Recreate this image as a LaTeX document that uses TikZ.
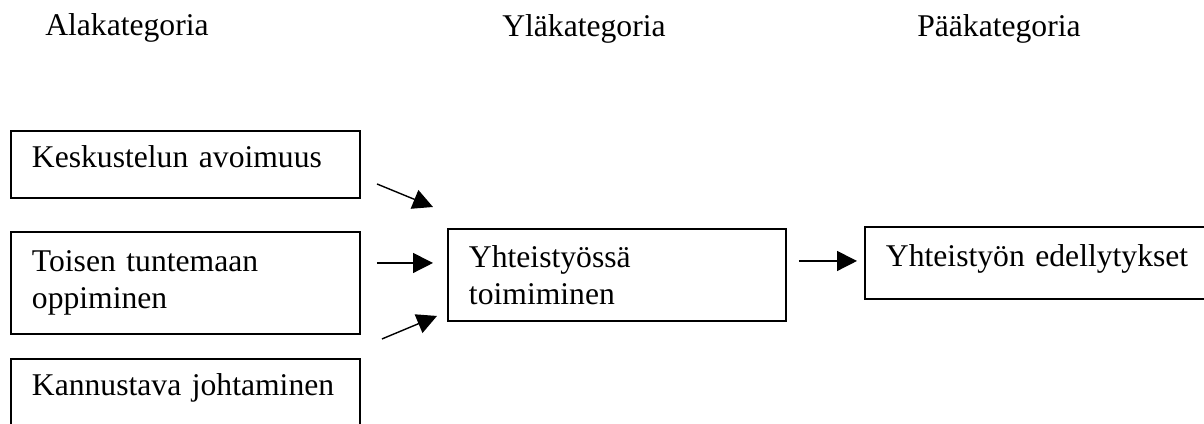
\documentclass[tikz,border=0pt]{standalone}
\usepackage{fontspec}
\setmainfont{Liberation Serif}
\usetikzlibrary{arrows.meta}

\begin{document}
\begin{tikzpicture}[
  headlabel/.style={anchor=base west, inner sep=0pt, font=\fontsize{22.5}{26.2}\selectfont},
  catbox/.style={draw, line width=1.4pt, anchor=north west, align=left, inner xsep=0.525cm,
    inner ysep=0pt, font=\fontsize{22.5}{26.2}\selectfont},
  oneline/.style={text depth=0.38cm},
  catarrow/.style={-{Triangle[length=0.5cm, width=0.5cm]}, line width=1pt}
]
  \useasboundingbox (0,0) rectangle (30.1,10.6);

  \node[headlabel] (ala) at (1.125,9.7) {Alakategoria};
  \node[headlabel] (yla) at (12.55,9.675) {Yläkategoria};
  \node[headlabel] (paa) at (22.925,9.675) {Pääkategoria};

  \node[catbox, oneline, text width=7.675cm, minimum height=1.675cm] (kesk) at (0.25,7.35) {Keskustelun avoimuus};
  \node[catbox, text width=7.675cm, minimum height=2.55cm] (toisen) at (0.25,4.825) {Toisen tuntemaan\\oppiminen};
  \node[catbox, oneline, text width=7.675cm, minimum height=1.675cm] (kann) at (0.25,1.65) {Kannustava johtaminen};
  \node[catbox, text width=7.4cm, minimum height=2.3cm] (yht) at (11.175,4.9) {Yhteistyössä\\toimiminen};
  \node[catbox, oneline, text width=8cm, minimum height=1.8cm] (edell) at (21.6,4.95) {Yhteistyön edellytykset};

  \draw[catarrow] ([shift={(0.4cm,0.375cm)}]kesk.south east) -- ([shift={(-0.35cm,0.525cm)}]yht.north west);
  \draw[catarrow] ([shift={(0.4cm,0.5cm)}]toisen.east) -- ([shift={(-0.35cm,0.3cm)}]yht.west);
  \draw[catarrow] ([shift={(0.525cm,-0.1cm)}]toisen.south east) -- ([shift={(-0.25cm,0.15cm)}]yht.south west);
  \draw[catarrow] ([shift={(0.3cm,0.35cm)}]yht.east) -- ([shift={(-0.175cm,0.05cm)}]edell.west);
\end{tikzpicture}
\end{document}
